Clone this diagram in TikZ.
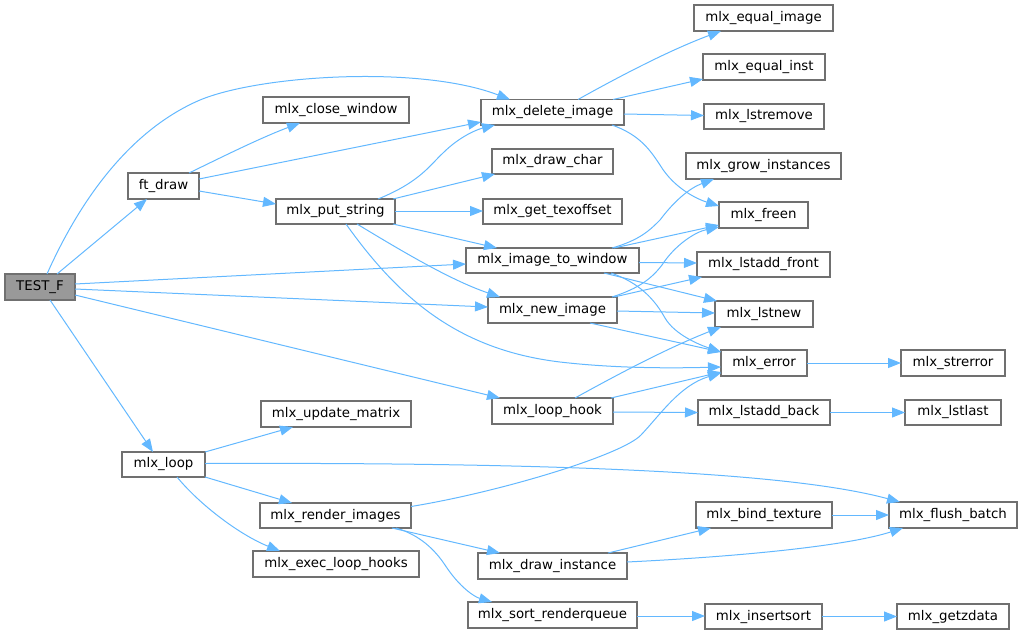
\documentclass[tikz,border=0pt]{standalone}
\usepackage{fontspec}
\setmainfont{DejaVu Sans}
\usetikzlibrary{arrows.meta}
\definecolor{edgeblue}{HTML}{63B8FF}
\definecolor{boxgray}{HTML}{707070}
\definecolor{rootfill}{HTML}{999999}
\tikzset{
  box/.style={draw=boxgray, line width=1.2pt, fill=white, inner sep=0pt, outer sep=0pt,
    font=\fontsize{13.33}{16}\selectfont, text=black},
  rootbox/.style={fill=rootfill},
  call/.style={draw=edgeblue, line width=1pt, -{Triangle[length=13pt,width=10pt,fill=edgeblue]}}
}
\newcommand{\gnode}[7][]{\node[box,#1,minimum width={#5-#3},minimum height={#6-#4}] (#2) at ({(#3+#5)/2},{(#4+#6)/2}) {#7};}
\begin{document}
\begin{tikzpicture}[x=1pt,y=-1pt]
\useasboundingbox (0,0) rectangle (1023,635);
% nodes
\gnode[rootbox]{tf}{5}{274}{75}{300}{TEST\_F}
\gnode{ftd}{128}{173}{199}{199}{ft\_draw}
\gnode{cw}{263}{97}{409}{123}{mlx\_close\_window}
\gnode{ps}{276}{199}{395}{224}{mlx\_put\_string}
\gnode{di}{481}{99.5}{624}{125}{mlx\_delete\_image}
\gnode{dc}{492}{149}{613}{174}{mlx\_draw\_char}
\gnode{gt}{483}{199}{622}{224}{mlx\_get\_texoffset}
\gnode{itw}{466}{248}{639}{273}{mlx\_image\_to\_window}
\gnode{ni}{488}{297}{617}{323}{mlx\_new\_image}
\gnode{lh}{492}{398}{613}{424}{mlx\_loop\_hook}
\gnode{um}{261}{401}{411}{427}{mlx\_update\_matrix}
\gnode{lp}{122}{452}{205}{477}{mlx\_loop}
\gnode{ri}{260}{503}{411}{528}{mlx\_render\_images}
\gnode{elh}{253}{551}{419}{577}{mlx\_exec\_loop\_hooks}
\gnode{dri}{478}{553}{627}{579}{mlx\_draw\_instance}
\gnode{srq}{468}{602}{637}{628}{mlx\_sort\_renderqueue}
\gnode{eqi}{694}{5}{833}{31}{mlx\_equal\_image}
\gnode{eqn}{703}{54}{825}{80}{mlx\_equal\_inst}
\gnode{lrm}{704}{104}{824}{129}{mlx\_lstremove}
\gnode{gi}{686}{153}{841}{179}{mlx\_grow\_instances}
\gnode{fr}{719}{202}{808}{228}{mlx\_freen}
\gnode{laf}{697}{252}{830}{277}{mlx\_lstadd\_front}
\gnode{ln}{715}{301}{813}{327}{mlx\_lstnew}
\gnode{er}{721}{350}{807}{376}{mlx\_error}
\gnode{lab}{698}{400}{830}{425}{mlx\_lstadd\_back}
\gnode{bt}{696}{502}{832}{528}{mlx\_bind\_texture}
\gnode{is}{705}{604}{822}{629}{mlx\_insertsort}
\gnode{se}{901}{350}{1005}{376}{mlx\_strerror}
\gnode{ll}{905}{400}{1001}{425}{mlx\_lstlast}
\gnode{fb}{889}{502}{1017}{528}{mlx\_flush\_batch}
\gnode{gz}{897}{604}{1009}{629}{mlx\_getzdata}
% edges from TEST_F
\draw[call] (57,0 |- tf.north) -- (147,0 |- ftd.south);
\draw[call] (47,0 |- tf.north) .. controls (80,200) and (130,130) .. (200,100) .. controls (260,75) and (420,65) .. (510,0 |- di.north);
\draw[call] (tf.east |- 0,284) -- (itw.west |- 0,264);
\draw[call] (tf.east |- 0,289) -- (ni.west |- 0,307);
\draw[call] (tf.east |- 0,295) -- (500,0 |- lh.north);
\draw[call] (50,0 |- tf.south) -- (153,0 |- lp.north);
% ft_draw
\draw[call] (189,0 |- ftd.north) .. controls (220,158) and (260,138) .. (300,0 |- cw.south);
\draw[call] (ftd.east |- 0,179) -- (di.west |- 0,122);
\draw[call] (ftd.east |- 0,191) -- (ps.west |- 0,204);
% mlx_put_string
\draw[call] (378,0 |- ps.north) .. controls (420,182) and (430,165) .. (443,153) .. controls (458,138) and (475,130) .. (495,0 |- di.south);
\draw[call] (393,0 |- ps.north) -- (495,0 |- dc.south);
\draw[call] (ps.east |- 0,211) -- (gt.west |- 0,211);
\draw[call] (393,0 |- ps.south) -- (497,0 |- itw.north);
\draw[call] (357,0 |- ps.south) .. controls (400,250) and (450,280) .. (500,0 |- ni.north);
\draw[call] (346,0 |- ps.south) .. controls (400,300) and (460,350) .. (560,362) .. controls (620,369) and (680,368) .. (er.west |- 0,367);
% mlx_delete_image
\draw[call] (578,0 |- di.north) .. controls (620,76) and (670,50) .. (721,0 |- eqi.south);
\draw[call] (613,0 |- di.north) -- (eqn.west |- 0,79);
\draw[call] (di.east |- 0,114) -- (lrm.west |- 0,115.5);
\draw[call] (612,0 |- di.south) .. controls (640,135) and (650,150) .. (660,165) .. controls (675,190) and (700,200) .. (fr.west |- 0,206);
% mlx_image_to_window
\draw[call] (612,0 |- itw.north) .. controls (640,240) and (650,230) .. (660,220) .. controls (675,200) and (690,188) .. (714,0 |- gi.south);
\draw[call] (614,0 |- itw.north) -- (fr.west |- 0,225);
\draw[call] (itw.east |- 0,262.5) -- (laf.west |- 0,263);
\draw[call] (604,0 |- itw.south) -- (717,0 |- ln.north);
\draw[call] (611,0 |- itw.south) .. controls (640,283) and (655,300) .. (665,318) .. controls (675,335) and (700,345) .. (er.west |- 0,352);
% mlx_new_image
\draw[call] (612,0 |- ni.north) .. controls (640,288) and (652,278) .. (662,265) .. controls (675,245) and (695,232) .. (fr.west |- 0,227);
\draw[call] (614,0 |- ni.north) -- (702,0 |- laf.south);
\draw[call] (ni.east |- 0,311) -- (ln.west |- 0,313);
\draw[call] (590,0 |- ni.south) -- (er.west |- 0,352);
% mlx_loop_hook
\draw[call] (575,0 |- lh.north) .. controls (622,372) and (670,347) .. (721,0 |- ln.south);
\draw[call] (611,0 |- lh.north) -- (er.west |- 0,372);
\draw[call] (lh.east |- 0,412) -- (lab.west |- 0,412.5);
% mlx_render_images
\draw[call] (ri.east |- 0,506.5) .. controls (500,492) and (622,455) .. (641,435) .. controls (660,415) and (680,385) .. (er.west |- 0,373);
\draw[call] (392,0 |- ri.south) -- (500,0 |- dri.north);
\draw[call] (396,0 |- ri.south) .. controls (420,535) and (435,550) .. (445,565) .. controls (460,588) and (475,597) .. (492,0 |- srq.north);
% mlx_loop
\draw[call] (lp.north east) -- (293,0 |- um.south);
\draw[call] (lp.east |- 0,463.5) .. controls (600,462) and (800,475) .. (900,0 |- fb.north);
\draw[call] (lp.south east) -- (292,0 |- ri.north);
\draw[call] (177,0 |- lp.south) .. controls (200,505) and (240,535) .. (280,0 |- elh.north);
% others
\draw[call] (608,0 |- dri.north) -- (711,0 |- bt.south);
\draw[call] (dri.east |- 0,562) .. controls (750,556) and (850,545) .. (903,0 |- fb.south);
\draw[call] (bt.east |- 0,515) -- (fb.west |- 0,515);
\draw[call] (srq.east |- 0,616) -- (is.west |- 0,616);
\draw[call] (is.east |- 0,616.5) -- (gz.west |- 0,616.5);
\draw[call] (er.east |- 0,363) -- (se.west |- 0,363);
\draw[call] (lab.east |- 0,412.5) -- (ll.west |- 0,412.5);
\end{tikzpicture}
\end{document}
